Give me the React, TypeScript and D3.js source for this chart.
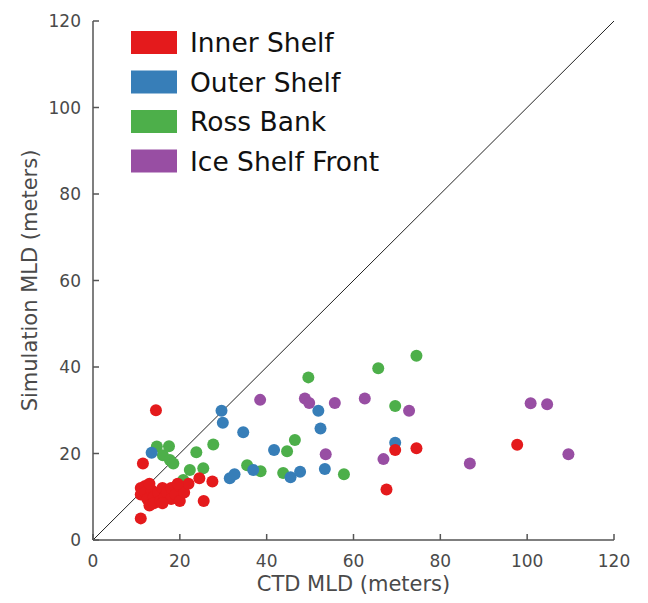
import React from 'react';
import * as d3 from 'd3';

type Pt = [number, number];

const groups = ['Inner Shelf', 'Outer Shelf', 'Ross Bank', 'Ice Shelf Front'];
const groupColors = ['#e41a1c', '#377eb8', '#4daf4a', '#984ea3'];
const ticks = [0, 20, 40, 60, 80, 100, 120];

// [CTD MLD, Simulation MLD]
const innerShelf: Pt[] = [
  [11, 5], [11.5, 17.7], [14.5, 30], [25.5, 9], [27.5, 13.5], [24.5, 14.3],
  [67.6, 11.7], [69.6, 20.8], [74.5, 21.2], [97.7, 22],
  [11, 12], [11, 10.5], [12, 12.5], [12, 11], [12.5, 9.5], [13, 8], [13.5, 11.5],
  [14, 10], [14, 8.5], [15, 11], [15.5, 9], [16, 12], [16.5, 10], [17, 11],
  [18, 9.5], [18, 12], [19, 10.5], [20, 9], [20, 12.5], [21, 11], [22, 13],
  [19.5, 13], [13, 13], [16, 8.5],
];
const outerShelf: Pt[] = [
  [13.5, 20.2], [29.6, 29.9], [29.9, 27.1], [34.6, 24.9], [31.5, 14.3], [32.6, 15.2],
  [36.9, 16.2], [41.7, 20.8], [45.5, 14.5], [47.7, 15.8], [51.9, 29.9], [52.4, 25.8],
  [53.4, 16.4], [69.6, 22.5],
];
const rossBank: Pt[] = [
  [14.7, 21.6], [17.5, 21.7], [16.1, 19.6], [17.7, 18.5], [18.5, 17.7], [19.3, 12],
  [20, 12.7], [20.8, 13.9], [22.3, 16.2], [23.8, 20.3], [25.4, 16.6], [27.7, 22.1],
  [35.5, 17.3], [38.6, 15.9], [43.8, 15.5], [44.7, 20.5], [46.5, 23.1], [49.6, 37.6],
  [57.8, 15.2], [65.7, 39.7], [69.6, 31], [74.5, 42.6],
];
const iceShelfFront: Pt[] = [
  [38.5, 32.4], [48.8, 32.7], [49.8, 31.7], [53.6, 19.8], [55.7, 31.7], [62.6, 32.7],
  [66.9, 18.7], [72.8, 29.9], [86.8, 17.7], [100.8, 31.6], [104.6, 31.4], [109.5, 19.8],
];

const series = [innerShelf, outerShelf, rossBank, iceShelfFront];
const drawOrder = [2, 1, 0, 3];

export default function App() {
  const width = 648;
  const height = 603;
  const x = d3.scaleLinear().domain([0, 120]).range([93, 614]);
  const y = d3.scaleLinear().domain([0, 120]).range([540, 21]);
  const axisColor = '#555';
  const textColor = '#4a4a4a';
  const font = '"DejaVu Sans", sans-serif';

  return (
    <svg width={width} height={height} style={{ position: 'absolute', left: 0, top: 0, background: '#fff' }}>
      {/* 1:1 line */}
      <line x1={x(0)} y1={y(0)} x2={x(120)} y2={y(120)} stroke="#222" strokeWidth={1} />

      {drawOrder.map(gi => (
        <g key={gi} fill={groupColors[gi]}>
          {series[gi].map((d, i) => (
            <circle key={i} cx={x(d[0])} cy={y(d[1])} r={6} />
          ))}
        </g>
      ))}

      {/* axes */}
      <g stroke={axisColor} strokeWidth={1.5} fill="none">
        <line x1={x(0)} y1={y(0)} x2={x(120)} y2={y(0)} />
        <line x1={x(0)} y1={y(0)} x2={x(0)} y2={y(120)} />
        {ticks.map(t => (
          <line key={'xt' + t} x1={x(t)} x2={x(t)} y1={y(0)} y2={y(0) - 6} />
        ))}
        {ticks.map(t => (
          <line key={'yt' + t} x1={x(0)} x2={x(0) + 6} y1={y(t)} y2={y(t)} />
        ))}
      </g>
      <g fill={textColor} fontFamily={font} fontSize={17}>
        {ticks.map(t => (
          <text key={'xl' + t} x={x(t)} y={y(0) + 27} textAnchor="middle">{t}</text>
        ))}
        {ticks.map(t => (
          <text key={'yl' + t} x={x(0) - 12} y={y(t) + 6} textAnchor="end">{t}</text>
        ))}
        <text x={(x(0) + x(120)) / 2} y={591} textAnchor="middle" fontSize={21}>CTD MLD (meters)</text>
        <text transform={`translate(37,${(y(0) + y(120)) / 2}) rotate(-90)`} textAnchor="middle" fontSize={21}>
          Simulation MLD (meters)
        </text>
      </g>

      {/* legend */}
      <g fontFamily={font} fontSize={26.5} fill="#111">
        {groups.map((g, i) => (
          <g key={g} transform={`translate(131,${31 + i * 39.5})`}>
            <rect width={46} height={23} fill={groupColors[i]} />
            <text x={59} y={21}>{g}</text>
          </g>
        ))}
      </g>
    </svg>
  );
}
